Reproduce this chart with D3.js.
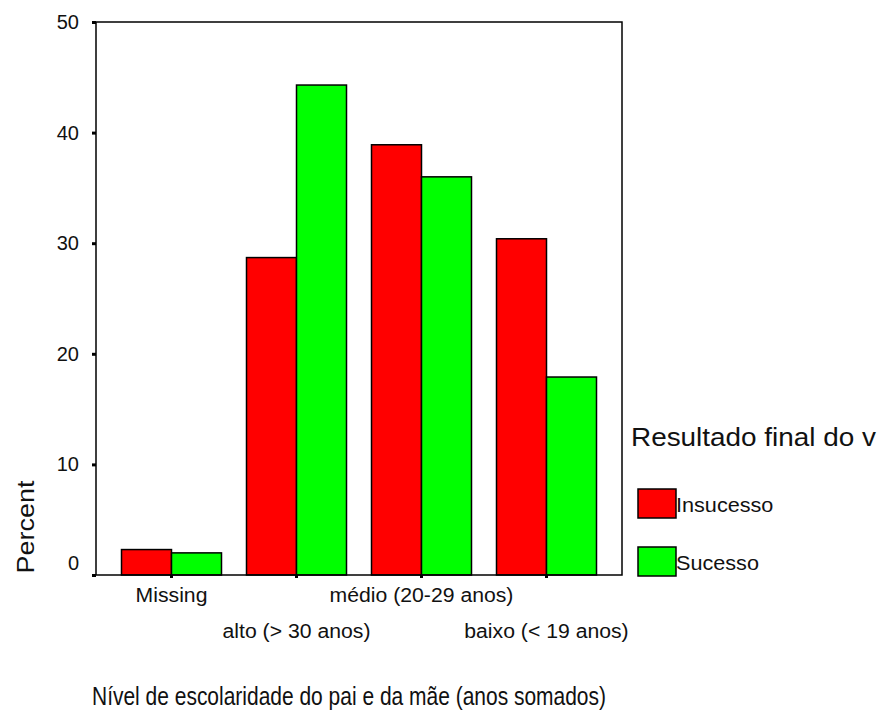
<!DOCTYPE html>
<html>
<head>
<meta charset="utf-8">
<script src="https://cdn.jsdelivr.net/npm/d3@7"></script>
<style>
  html, body { margin: 0; padding: 0; background: #fff; }
  svg { display: block; }
  text { font-family: "Liberation Sans", Arial, sans-serif; fill: #111; }
</style>
</head>
<body>
<svg id="chart" width="882" height="713"></svg>
<script>
// ---- data ----
const categories = ["Missing", "alto (> 30 anos)", "médio (20-29 anos)", "baixo (< 19 anos)"];
const seriesNames = ["Insucesso", "Sucesso"];
const insucesso = [2.3, 28.7, 38.9, 30.4];
const sucesso = [2.0, 44.3, 36.0, 17.9];
const yTicks = [0, 10, 20, 30, 40, 50];
const seriesColors = ["#ff0000", "#00ff00"];
const yTitle = "Percent";
const xTitle = "Nível de escolaridade do pai e da mãe (anos somados)";
const legendTitle = "Resultado final do v";

// ---- layout ----
const svg = d3.select("#chart");
svg.append("rect").attr("width", 882).attr("height", 713).attr("fill", "#fff");

const plot = { left: 96, right: 622, top: 22, bottom: 575 };

const y = d3.scaleLinear().domain([0, 50]).range([plot.bottom, plot.top]);
const x = d3.scaleBand().domain(categories)
  .range([plot.left, plot.right]).paddingInner(0.2).paddingOuter(0.204);
const xs = d3.scaleBand().domain(seriesNames).range([0, x.bandwidth()]);
const color = d3.scaleOrdinal().domain(seriesNames).range(seriesColors);

const rows = categories.map((c, i) => ({ cat: c, values: [insucesso[i], sucesso[i]] }));

// bars
const groups = svg.append("g").selectAll("g").data(rows).join("g")
  .attr("transform", d => `translate(${x(d.cat)},0)`);
groups.selectAll("rect").data(d => seriesNames.map((s, j) => ({ s, v: d.values[j] })))
  .join("rect")
  .attr("x", d => xs(d.s))
  .attr("width", xs.bandwidth())
  .attr("y", d => y(d.v))
  .attr("height", d => y(0) - y(d.v))
  .attr("fill", d => color(d.s))
  .attr("stroke", "#000")
  .attr("stroke-width", 1.5);

// frame
svg.append("rect")
  .attr("x", plot.left).attr("y", plot.top)
  .attr("width", plot.right - plot.left).attr("height", plot.bottom - plot.top)
  .attr("fill", "none").attr("stroke", "#000").attr("stroke-width", 1.5);

// y axis
const yAxis = svg.append("g").attr("transform", `translate(${plot.left},0)`)
  .call(d3.axisLeft(y).tickValues(yTicks).tickSize(4).tickPadding(13).tickFormat(d3.format("d")));
yAxis.select(".domain").remove();
yAxis.selectAll(".tick line").attr("stroke", "#000").attr("stroke-width", 3);
yAxis.selectAll(".tick text")
  .style("font-size", "20px")
  .attr("fill", "#222")
  .attr("dy", d => d === 0 ? "-0.3em" : "0.32em");

// x axis ticks
const xAxis = svg.append("g").attr("transform", `translate(0,${plot.bottom})`)
  .call(d3.axisBottom(x).tickSize(3).tickFormat(""));
xAxis.select(".domain").remove();
xAxis.selectAll(".tick line").attr("stroke", "#000").attr("stroke-width", 3);

// category labels (staggered)
svg.append("g").selectAll("text").data(categories).join("text")
  .attr("x", d => x(d) + x.bandwidth() / 2)
  .attr("y", (d, i) => i % 2 === 0 ? 602 : 638)
  .attr("text-anchor", "middle")
  .style("font-size", "20px")
  .text(d => d)
  .each(function () {
    const w = this.getComputedTextLength();
    d3.select(this).attr("textLength", w * 1.06).attr("lengthAdjust", "spacingAndGlyphs");
  });

// y title
svg.append("text")
  .attr("transform", "translate(34,527) rotate(-90)")
  .attr("text-anchor", "middle")
  .attr("textLength", 93).attr("lengthAdjust", "spacingAndGlyphs")
  .style("font-size", "24px")
  .text(yTitle);

// x title
svg.append("text")
  .attr("x", 92).attr("y", 705)
  .attr("textLength", 514).attr("lengthAdjust", "spacingAndGlyphs")
  .style("font-size", "25px")
  .text(xTitle);

// legend
svg.append("text")
  .attr("x", 631).attr("y", 446)
  .attr("textLength", 245).attr("lengthAdjust", "spacingAndGlyphs")
  .style("font-size", "26px")
  .text(legendTitle);

const leg = svg.append("g").selectAll("g").data(seriesNames).join("g")
  .attr("transform", (d, i) => `translate(638,${489 + i * 58})`);
leg.append("rect")
  .attr("width", 38).attr("height", 29)
  .attr("fill", d => color(d))
  .attr("stroke", "#000").attr("stroke-width", 1.5);
leg.append("text")
  .attr("x", 38).attr("y", 23)
  .style("font-size", "21px")
  .text(d => d)
  .each(function () {
    const w = this.getComputedTextLength();
    d3.select(this).attr("textLength", w * 1.03).attr("lengthAdjust", "spacingAndGlyphs");
  });
</script>
</body>
</html>
